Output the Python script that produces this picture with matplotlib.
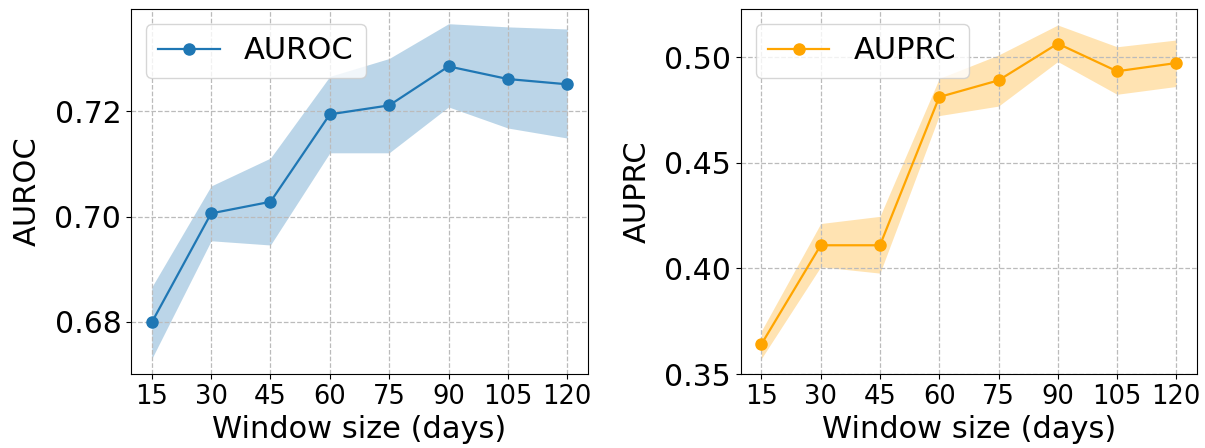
import numpy as np
import matplotlib
matplotlib.use('Agg')
import matplotlib.pyplot as plt

# window sizes (days)
windows = [15, 30, 45, 60, 75, 90, 105, 120]

# AUROC mean and band
auroc = [0.6799, 0.7006, 0.7028, 0.7194, 0.7211, 0.7285, 0.7261, 0.7251]
auroc_hi = [0.6866, 0.7058, 0.7111, 0.7266, 0.7300, 0.7366, 0.7360, 0.7356]
auroc_lo = [0.6730, 0.6954, 0.6946, 0.7121, 0.7121, 0.7208, 0.7168, 0.7149]

# AUPRC mean and band
auprc = [0.3642, 0.4110, 0.4110, 0.4812, 0.4891, 0.5065, 0.4934, 0.4973]
auprc_hi = [0.3705, 0.4213, 0.4247, 0.4900, 0.5011, 0.5153, 0.5050, 0.5082]
auprc_lo = [0.3574, 0.4008, 0.3978, 0.4724, 0.4769, 0.4980, 0.4825, 0.4862]

fs_xtick = 18.5
fs_ytick = 21.5
fs_lab = 22
fs_leg = 22

fig = plt.figure(figsize=(12.05, 4.48), dpi=100)
ax1 = fig.add_axes([0.1087, 0.165, 0.3793, 0.815])
ax2 = fig.add_axes([0.6147, 0.165, 0.3787, 0.815])

panels = [
    (ax1, auroc, auroc_lo, auroc_hi, '#1f77b4', 'AUROC', (0.6701, 0.7394), [0.68, 0.70, 0.72]),
    (ax2, auprc, auprc_lo, auprc_hi, 'orange', 'AUPRC', (0.35, 0.5229), [0.35, 0.40, 0.45, 0.50]),
]

for ax, y, lo, hi, col, name, ylim, yticks in panels:
    ax.fill_between(windows, lo, hi, color=col, alpha=0.3, linewidth=0)
    ax.plot(windows, y, '-o', color=col, linewidth=1.6, markersize=8, label=name)
    ax.set_xticks(windows)
    ax.set_yticks(yticks)
    ax.set_yticklabels(['%.2f' % v for v in yticks])
    ax.set_ylim(ylim)
    ax.tick_params(axis='x', labelsize=fs_xtick)
    ax.tick_params(axis='y', labelsize=fs_ytick)
    ax.set_xlabel('Window size (days)', fontsize=fs_lab, labelpad=4)
    ax.set_ylabel(name, fontsize=fs_lab, labelpad=9)
    ax.grid(True, linestyle='--', color='#bbbbbb', linewidth=0.9)
    ax.legend(loc='upper left', fontsize=fs_leg)

fig.savefig('out.png', dpi=100)
